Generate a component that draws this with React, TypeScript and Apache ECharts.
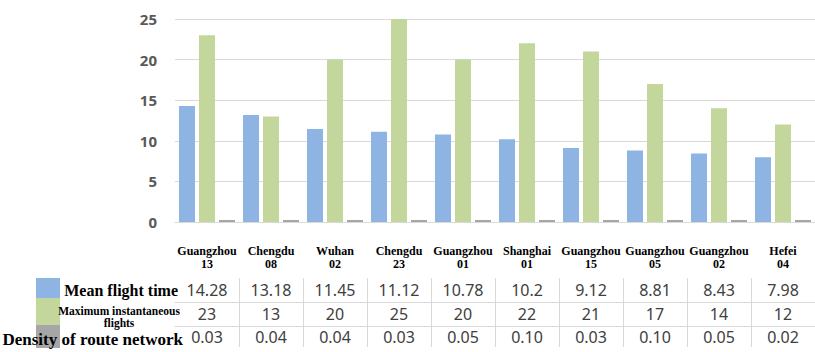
import { useEffect, useRef } from 'react';
import * as echarts from 'echarts';

// Routes (sector name + number), in descending order of mean flight time
const categories = [
  'Guangzhou\n13',
  'Chengdu\n08',
  'Wuhan\n02',
  'Chengdu\n23',
  'Guangzhou\n01',
  'Shanghai\n01',
  'Guangzhou\n15',
  'Guangzhou\n05',
  'Guangzhou\n02',
  'Hefei\n04',
];
const meanFlightTime = [14.28, 13.18, 11.45, 11.12, 10.78, 10.2, 9.12, 8.81, 8.43, 7.98];
const maxInstantaneousFlights = [23, 13, 20, 25, 20, 22, 21, 17, 14, 12];
const routeDensity = [0.03, 0.04, 0.04, 0.03, 0.05, 0.1, 0.03, 0.1, 0.05, 0.02];

const Y_MIN = 0;
const Y_MAX = 25;
const Y_STEP = 5;

const BLUE = '#8DB4E2';
const GREEN = '#C3D69B';
const GRAY = '#A6A6A6';
const RULE = '#D9D9D9';
const SERIF = '"Liberation Serif", "Times New Roman", serif';
const SANS = '"Noto Sans", "Open Sans", sans-serif';

// One row of the data table under the plot: a category axis pushed down by
// `offset`, its ticks acting as column separators and its labels as cells.
function tableRow(
  offset: number,
  values: number[],
  fmt: (v: number) => string,
  showLine: boolean,
  tickLength: number,
  margin: number,
) {
  return {
    type: 'category',
    gridIndex: 0,
    position: 'bottom',
    offset,
    data: categories,
    axisLine: { show: showLine, onZero: false, lineStyle: { color: RULE, width: 1 } },
    axisTick: {
      show: true,
      length: tickLength,
      interval: (i: number) => i !== 0,
      lineStyle: { color: RULE, width: 1 },
    },
    axisLabel: {
      interval: 0,
      margin,
      formatter: (_v: string, i: number) => fmt(values[i]),
      fontFamily: SANS,
      fontSize: 16,
      lineHeight: 18,
      color: '#404040',
    },
    splitLine: { show: false },
  };
}

export default function App() {
  const ref = useRef<HTMLDivElement>(null);

  useEffect(() => {
    if (!ref.current) return;
    const chart = echarts.init(ref.current, undefined, { renderer: 'svg' });

    chart.setOption({
      animation: false,
      backgroundColor: '#ffffff',
      grid: { left: 175, top: 19, width: 652, height: 203 },
      xAxis: [
        {
          type: 'category',
          gridIndex: 0,
          position: 'bottom',
          data: categories,
          axisLine: { show: true, onZero: false, lineStyle: { color: RULE, width: 1 } },
          axisTick: { show: false },
          axisLabel: {
            interval: 0,
            margin: 22,
            fontFamily: SERIF,
            fontWeight: 'bold',
            fontSize: 12,
            lineHeight: 13,
            color: '#000000',
          },
        },
        tableRow(56, meanFlightTime, (v) => String(v), false, 24, 3),
        tableRow(80, maxInstantaneousFlights, (v) => String(v), true, 24, 3),
        tableRow(104, routeDensity, (v) => v.toFixed(2), true, 21, 2),
      ],
      yAxis: {
        type: 'value',
        min: Y_MIN,
        max: Y_MAX,
        interval: Y_STEP,
        axisLine: { show: false },
        axisTick: { show: false },
        axisLabel: {
          margin: 18,
          fontFamily: SANS,
          fontWeight: 'bold',
          fontSize: 15,
          color: '#595959',
        },
        splitLine: { show: true, lineStyle: { color: RULE, width: 1 } },
      },
      series: [
        {
          name: 'Mean flight time',
          type: 'bar',
          xAxisIndex: 0,
          yAxisIndex: 0,
          data: meanFlightTime,
          barWidth: 16,
          barGap: '25%',
          itemStyle: { color: BLUE },
        },
        {
          name: 'Maximum instantaneous flights',
          type: 'bar',
          xAxisIndex: 0,
          yAxisIndex: 0,
          data: maxInstantaneousFlights,
          barWidth: 16,
          barGap: '25%',
          itemStyle: { color: GREEN },
        },
        {
          name: 'Density of route network',
          type: 'bar',
          xAxisIndex: 0,
          yAxisIndex: 0,
          data: routeDensity,
          barWidth: 16,
          barGap: '25%',
          barMinHeight: 2,
          itemStyle: { color: GRAY },
        },
      ],
      graphic: [
        // legend keys of the data table
        { type: 'rect', shape: { x: 36, y: 278, width: 24, height: 20 }, style: { fill: BLUE }, z: 1 },
        { type: 'rect', shape: { x: 36, y: 298, width: 24, height: 27 }, style: { fill: GREEN }, z: 1 },
        { type: 'rect', shape: { x: 36, y: 325, width: 24, height: 23 }, style: { fill: GRAY }, z: 1 },
        // row titles
        {
          type: 'text',
          x: 178,
          y: 290,
          z: 2,
          style: {
            text: 'Mean flight time',
            fontFamily: SERIF,
            fontWeight: 'bold',
            fontSize: 16,
            fill: '#000000',
            align: 'right',
            verticalAlign: 'middle',
          },
        },
        {
          type: 'text',
          x: 119,
          y: 317,
          z: 2,
          style: {
            text: 'Maximum instantaneous\nflights',
            fontFamily: SERIF,
            fontWeight: 'bold',
            fontSize: 11.5,
            lineHeight: 12.5,
            fill: '#000000',
            align: 'center',
            verticalAlign: 'middle',
          },
        },
        {
          type: 'text',
          x: 183,
          y: 339,
          z: 2,
          style: {
            text: 'Density of route network',
            fontFamily: SERIF,
            fontWeight: 'bold',
            fontSize: 17,
            fill: '#000000',
            align: 'right',
            verticalAlign: 'middle',
          },
        },
      ],
    });

    return () => chart.dispose();
  }, []);

  return (
    <div
      ref={ref}
      style={{ position: 'absolute', left: 0, top: 0, width: 815, height: 352 }}
    />
  );
}
